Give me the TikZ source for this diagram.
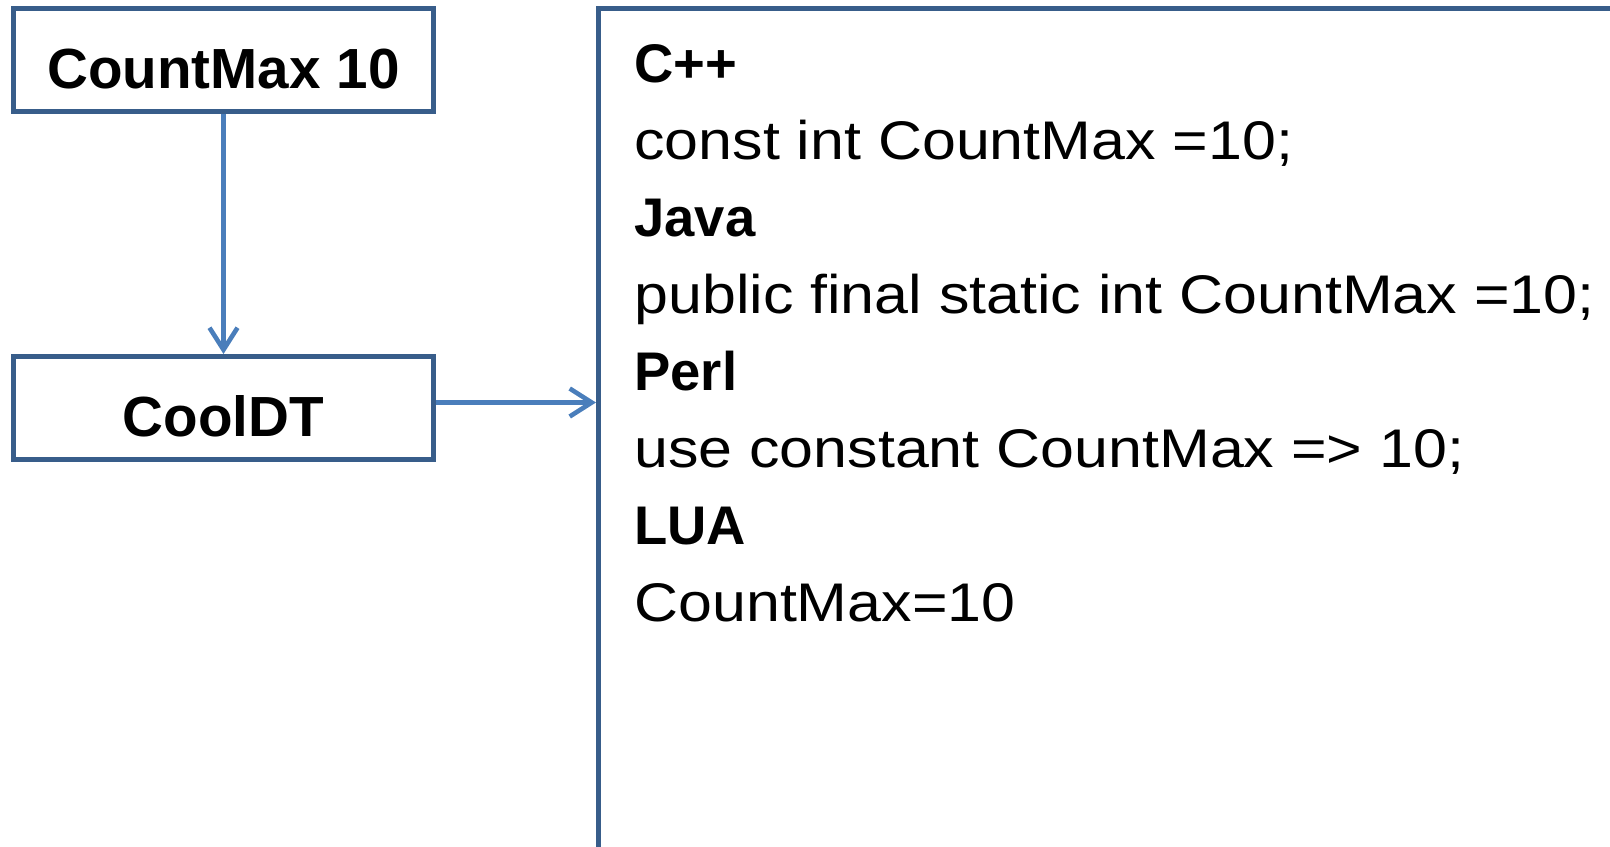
\documentclass[tikz,border=0pt]{standalone}
\usepackage{fontspec}
\setmainfont{Liberation Sans}
\newfontfamily\codefont{Liberation Sans}[FakeStretch=1.12]
\usetikzlibrary{arrows.meta,positioning}
\definecolor{boxline}{HTML}{385D8A}
\definecolor{arrowline}{HTML}{4A7EBB}

\begin{document}
\begin{tikzpicture}[x=0.5pt,y=-0.5pt,
  >={Straight Barb[length=11pt,width=14pt]},
  node distance=120pt,
  box node/.style={rectangle,draw=boxline,line width=2.5pt,fill=white,
    font=\fontsize{28.3}{32}\selectfont\bfseries,
    text height=28pt,text depth=0pt,
    minimum width=210pt,minimum height=51.5pt,inner sep=0pt},
  lang node/.style={anchor=base west,inner sep=0pt,
    font=\fontsize{27.2}{32}\selectfont\bfseries},
  code node/.style={anchor=base west,inner sep=0pt,
    font=\fontsize{27.2}{32}\selectfont\codefont},
  link/.style={->,draw=arrowline,line width=2.3pt}]

  \useasboundingbox (0,0) rectangle (1610,846);

  \node[box node] (cmax) at (223.5,60) {CountMax 10};
  \node[box node] (cool) [below=of cmax] {CoolDT};

  % the listing box runs off the right and bottom of the page
  \node[draw=boxline,line width=2.5pt,anchor=north west,
    minimum width=560pt,minimum height=460pt] (listing) at (596,6) {};

  \node[lang node] (cpp)  at (634,82)  {C++};
  \node[code node] (cppc) at (634,159) {const int CountMax =10;};
  \node[lang node] (java) at (634,236) {Java};
  \node[code node] (javc) at (634,313) {public final static int CountMax =10;};
  \node[lang node] (perl) at (634,390) {Perl};
  \node[code node] (perc) at (634,467) {use constant CountMax => 10;};
  \node[lang node] (lua)  at (634,544) {LUA};
  \node[code node] (luac) at (634,621) {CountMax=10};

  \draw[link] (cmax.south) -- (cool.north);
  \draw[link] ([yshift=2.75pt]cool.east) -- ([yshift=2.75pt]cool.east -| listing.west);

\end{tikzpicture}
\end{document}
